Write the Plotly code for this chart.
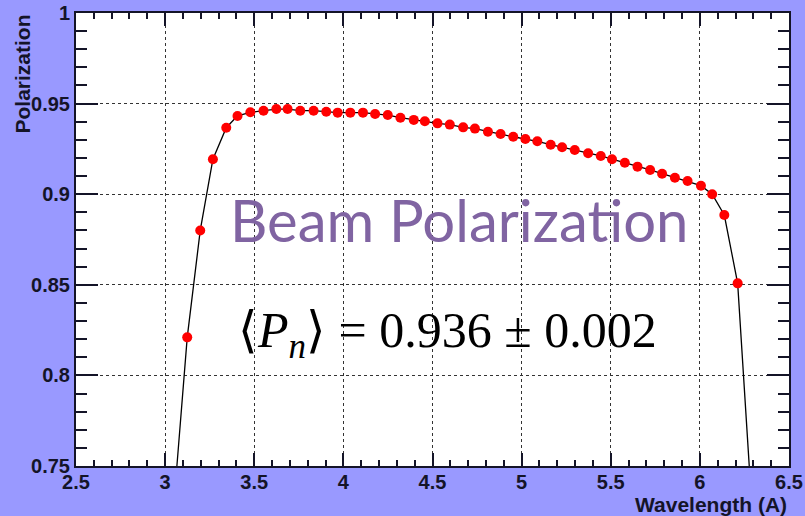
import plotly.graph_objects as go

# Data
wavelength = [3.124, 3.197, 3.268, 3.343, 3.406, 3.478, 3.552, 3.624, 3.687, 3.758,
              3.833, 3.904, 3.968, 4.039, 4.110, 4.178, 4.249, 4.320, 4.395, 4.457,
              4.528, 4.597, 4.672, 4.738, 4.811, 4.882, 4.953, 5.021, 5.088, 5.163,
              5.227, 5.298, 5.373, 5.444, 5.507, 5.579, 5.650, 5.721, 5.788, 5.860,
              5.931, 6.006, 6.069, 6.137, 6.212]
polarization = [0.8210, 0.8800, 0.9193, 0.9367, 0.9432, 0.9452, 0.9461, 0.9470, 0.9470, 0.9461,
                0.9461, 0.9455, 0.9450, 0.9450, 0.9450, 0.9443, 0.9437, 0.9422, 0.9410, 0.9403,
                0.9391, 0.9384, 0.9369, 0.9362, 0.9345, 0.9332, 0.9317, 0.9305, 0.9292, 0.9273,
                0.9259, 0.9244, 0.9226, 0.9211, 0.9193, 0.9174, 0.9152, 0.9134, 0.9113, 0.9091,
                0.9073, 0.9047, 0.9000, 0.8885, 0.8508]
# Fit curve continues beyond the measured points down to the axis
curve_start = (3.066, 0.75)
curve_end = (6.277, 0.75)

x_ticks = [2.5, 3, 3.5, 4, 4.5, 5, 5.5, 6, 6.5]
y_ticks = [0.75, 0.8, 0.85, 0.9, 0.95, 1]

title_text = "Beam Polarization"
formula_text = "⟨<i>P</i><sub><i>n</i></sub>⟩ = 0.936 ± 0.002"

curve_x = [curve_start[0]] + wavelength + [curve_end[0]]
curve_y = [curve_start[1]] + polarization + [curve_end[1]]

fig = go.Figure()
fig.add_trace(go.Scatter(x=curve_x, y=curve_y, mode="lines",
                         line=dict(color="black", width=1.3), hoverinfo="skip"))
fig.add_trace(go.Scatter(x=wavelength, y=polarization, mode="markers",
                         marker=dict(color="#ff0000", size=10, line=dict(width=0))))

axis_col = "#141428"
tickfont = dict(family="Liberation Sans, Arial", size=20, color=axis_col, weight="bold")

fig.update_xaxes(range=[2.5, 6.5], tickvals=x_ticks, ticks="inside", ticklen=13,
                 tickwidth=1.5, tickcolor=axis_col, showline=True, linecolor=axis_col,
                 linewidth=2, mirror="ticks", showgrid=True, gridcolor="#333",
                 griddash="dot", gridwidth=1, zeroline=False, tickfont=tickfont,
                 automargin=False, ticklabelstandoff=-3,
                 minor=dict(ticks="inside", ticklen=6, dtick=0.1, tickwidth=1.5,
                            tickcolor=axis_col, showgrid=False))
fig.update_yaxes(range=[0.75, 1.0], tickvals=y_ticks, ticks="inside", ticklen=22,
                 tickwidth=1.5, tickcolor=axis_col, showline=True, linecolor=axis_col,
                 linewidth=2, mirror="ticks", showgrid=True, gridcolor="#333",
                 griddash="dot", gridwidth=1, zeroline=False, tickfont=tickfont,
                 automargin=False,
                 minor=dict(ticks="inside", ticklen=11, dtick=0.01, tickwidth=1.5,
                            tickcolor=axis_col, showgrid=False))

fig.update_layout(
    width=805, height=516,
    margin=dict(l=76, r=16, t=13, b=50),
    paper_bgcolor="#9999ff", plot_bgcolor="white",
    showlegend=False,
    annotations=[
        dict(text="Polarization", xref="paper", yref="paper", x=-0.0757, y=1.0,
             xanchor="center", yanchor="top", textangle=-90, showarrow=False,
             font=dict(family="Liberation Sans, Arial", size=21, color=axis_col, weight="bold")),
        dict(text="Wavelength (A)", xref="paper", yref="paper", x=1.0, y=-0.084,
             xanchor="right", yanchor="middle", showarrow=False,
             font=dict(family="Liberation Sans, Arial", size=21, color=axis_col, weight="bold")),
        dict(text=title_text, xref="paper", yref="paper", x=0.213, y=0.545,
             xanchor="left", yanchor="middle", showarrow=False,
             font=dict(family="Lato", size=58, color="#8064a2")),
        dict(text=formula_text, xref="paper", yref="paper", x=0.225, y=0.292,
             xanchor="left", yanchor="middle", showarrow=False,
             font=dict(family="Liberation Serif", size=50, color="black")),
    ],
)

fig.write_html("out.html")
